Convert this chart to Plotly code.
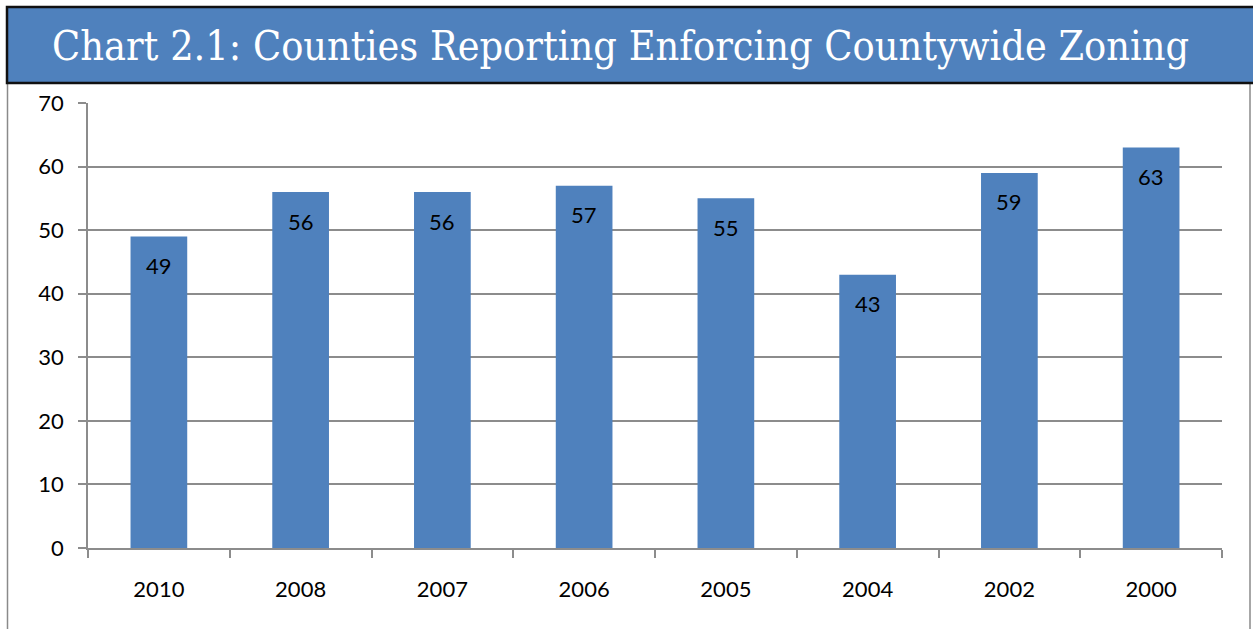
import plotly.graph_objects as go

# Survey years and number of counties enforcing countywide zoning
years = ["2010", "2008", "2007", "2006", "2005", "2004", "2002", "2000"]
counties = [49, 56, 56, 57, 55, 43, 59, 63]
y_ticks = [0, 10, 20, 30, 40, 50, 60, 70]

title_text = "Chart 2.1: Counties Reporting Enforcing Countywide Zoning"

W, H = 1253, 629
L, R, T, B = 88, 1222, 103, 548  # plot area in pixels


def px_x(p):
    return (p - L) / (R - L)


def px_y(p):
    return (B - p) / (B - T)


BAR = "#4F81BD"
GRID = "#8C8C8C"
FONT = "Lato, Carlito, Liberation Sans, sans-serif"
FS = 22

fig = go.Figure(
    go.Bar(
        x=years,
        y=counties,
        marker=dict(color=BAR, line=dict(width=0)),
        hoverinfo="x+y",
    )
)

# value labels placed just inside the top of each bar (x given as category index)
for i, v in enumerate(counties):
    fig.add_annotation(
        x=i, y=v, xref="x", yref="y", text=str(v), showarrow=False,
        yshift=-29, font=dict(family=FONT, size=FS, color="black"),
    )

shapes = [
    # outer frame sides
    dict(type="line", xref="paper", yref="paper",
         x0=px_x(7.5), x1=px_x(7.5), y0=px_y(84), y1=px_y(640),
         line=dict(color="#8A8A8A", width=1.5)),
    dict(type="line", xref="paper", yref="paper",
         x0=px_x(1250), x1=px_x(1250), y0=px_y(84), y1=px_y(640),
         line=dict(color="#8A8A8A", width=1.5)),
    # title banner
    dict(type="rect", xref="paper", yref="paper",
         x0=px_x(7), x1=px_x(1262), y0=px_y(83), y1=px_y(7),
         fillcolor=BAR, line=dict(color="#111111", width=2.5)),
]

fig.add_annotation(
    xref="paper", yref="paper", x=px_x(620), y=px_y(46),
    text=title_text, showarrow=False, xanchor="center", yanchor="middle",
    font=dict(family="DejaVu Serif Condensed, DejaVu Serif, serif", size=41, color="white"),
)

fig.update_layout(
    width=W, height=H,
    margin=dict(l=L, r=W - R, t=T, b=H - B, pad=0),
    paper_bgcolor="white", plot_bgcolor="white",
    bargap=0.6,
    showlegend=False,
    shapes=shapes,
    font=dict(family=FONT, size=FS, color="black"),
)

fig.update_xaxes(
    type="category", range=[-0.5, len(years) - 0.5], automargin=False,
    showline=True, linecolor=GRID, linewidth=1.5,
    ticks="outside", tickson="boundaries", ticklen=8, tickcolor=GRID, tickwidth=1.5,
    showgrid=False, tickangle=0,
    tickfont=dict(family=FONT, size=FS, color="black"),
    ticklabelstandoff=21,
)

fig.update_yaxes(
    range=[0, 70], tickvals=y_ticks, automargin=False,
    showline=True, linecolor=GRID, linewidth=1.5,
    ticks="outside", ticklen=8, tickcolor=GRID, tickwidth=1.5,
    showgrid=True, gridcolor=GRID, gridwidth=1.5,
    zeroline=False,
    tickfont=dict(family=FONT, size=FS, color="black"),
    ticklabelstandoff=10,
)

fig.write_html("out.html")
